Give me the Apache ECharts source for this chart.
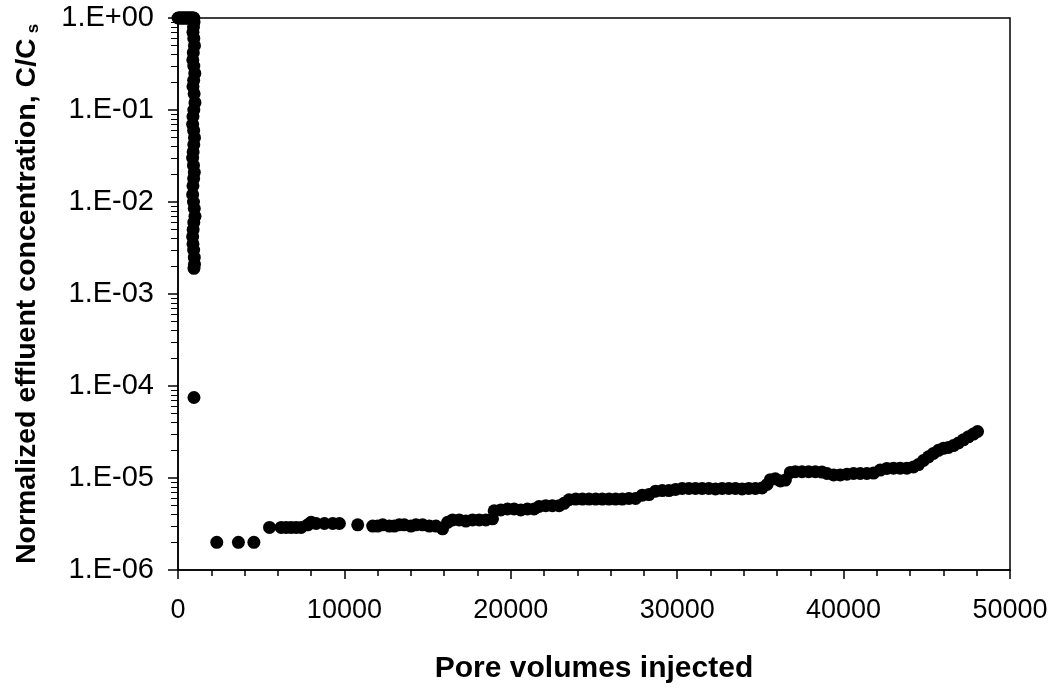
<!DOCTYPE html>
<html>
<head>
<meta charset="utf-8">
<script src="https://cdn.jsdelivr.net/npm/echarts@6/dist/echarts.min.js"></script>
<style>
  html, body { margin: 0; padding: 0; background: #fff; }
  #chart { width: 1060px; height: 690px; }
</style>
</head>
<body>
<div id="chart"></div>
<script>
// early breakthrough: pore volumes and C/Cs
var earlyX = [0, 60, 120, 180, 240, 300, 360, 420, 480, 540, 600, 660, 720, 780, 840, 900, 950,
  960, 930, 900, 950, 990, 920, 890, 950, 1010, 940, 900, 970, 1020, 950, 900, 880, 940, 990, 950,
  910, 880, 930, 980, 940, 900, 880, 930, 980, 1020, 950, 910, 880, 900, 940, 980, 990, 960, 960];
var earlyC = [1, 1, 1, 1, 1, 1, 1, 1, 1, 1, 1, 1, 1, 1, 1, 1, 1,
  0.9, 0.8, 0.7, 0.6, 0.5, 0.42, 0.35, 0.3, 0.25, 0.21, 0.18, 0.15, 0.12, 0.1, 0.085, 0.07, 0.06, 0.05, 0.042,
  0.035, 0.03, 0.025, 0.021, 0.018, 0.015, 0.012, 0.01, 0.0085, 0.007, 0.006, 0.005, 0.0042, 0.0035, 0.003,
  0.0025, 0.0021, 0.0019, 0.000075];

// long tail
var tailX = [2330, 3630, 4560, 5500, 6200, 6500, 6800, 7100, 7400, 7800, 8000, 8300, 8800, 9300, 9700,
  10800, 11700, 12000, 12300, 12700, 13000, 13300, 13600, 14000, 14300, 14700, 15100, 15500, 15900,
  16200, 16500, 16900, 17300, 17700, 18100, 18500, 18900, 19000, 19400, 19800, 20200, 20600, 21000,
  21400, 21700, 22100, 22500, 22900, 23200, 23500, 23900, 24300, 24700, 25100, 25500, 25900, 26300,
  26700, 27100, 27500, 27900, 28300, 28700, 29100, 29500, 29900, 30300, 30700, 31100, 31500, 31900,
  32300, 32700, 33100, 33500, 33900, 34300, 34700, 35100, 35400, 35600, 35900, 36200, 36500, 36800,
  37100, 37500, 37900, 38300, 38700, 39000, 39400, 39800, 40200, 40600, 41000, 41400, 41800, 42200,
  42600, 43000, 43400, 43800, 44200, 44500, 44800, 45100, 45400, 45700, 46000, 46300, 46600, 46900,
  47200, 47500, 47800, 48050];
var tailC = [2.0e-6, 2.0e-6, 2.0e-6, 2.9e-6, 2.9e-6, 2.9e-6, 2.9e-6, 2.9e-6, 2.9e-6, 3.1e-6, 3.3e-6, 3.2e-6, 3.2e-6, 3.2e-6, 3.2e-6,
  3.1e-6, 3.0e-6, 3.0e-6, 3.1e-6, 3.0e-6, 3.0e-6, 3.1e-6, 3.1e-6, 3.0e-6, 3.1e-6, 3.1e-6, 3.0e-6, 3.0e-6, 2.8e-6,
  3.3e-6, 3.5e-6, 3.5e-6, 3.4e-6, 3.5e-6, 3.5e-6, 3.5e-6, 3.6e-6, 4.4e-6, 4.5e-6, 4.6e-6, 4.6e-6, 4.5e-6, 4.6e-6,
  4.6e-6, 4.9e-6, 5.0e-6, 5.0e-6, 5.0e-6, 5.3e-6, 5.8e-6, 5.9e-6, 5.9e-6, 5.9e-6, 5.9e-6, 5.9e-6, 5.9e-6, 5.9e-6,
  5.9e-6, 6.0e-6, 6.0e-6, 6.5e-6, 6.6e-6, 7.2e-6, 7.3e-6, 7.3e-6, 7.5e-6, 7.7e-6, 7.7e-6, 7.7e-6, 7.7e-6, 7.7e-6,
  7.6e-6, 7.7e-6, 7.7e-6, 7.7e-6, 7.6e-6, 7.7e-6, 7.7e-6, 7.8e-6, 8.5e-6, 9.6e-6, 9.8e-6, 9.3e-6, 9.5e-6, 1.15e-5,
  1.17e-5, 1.17e-5, 1.17e-5, 1.17e-5, 1.16e-5, 1.12e-5, 1.08e-5, 1.08e-5, 1.10e-5, 1.12e-5, 1.12e-5, 1.12e-5, 1.13e-5, 1.22e-5,
  1.27e-5, 1.28e-5, 1.28e-5, 1.28e-5, 1.32e-5, 1.4e-5, 1.55e-5, 1.7e-5, 1.85e-5, 2.0e-5, 2.1e-5, 2.15e-5, 2.25e-5, 2.4e-5,
  2.6e-5, 2.8e-5, 3.0e-5, 3.2e-5];

var yMajorTicks = [1e-6, 1e-5, 1e-4, 1e-3, 1e-2, 1e-1, 1];
var yMinorTicks = [];
for (var e = -6; e < 0; e++) {
  for (var m = 2; m <= 9; m++) {
    yMinorTicks.push(m * Math.pow(10, e));
  }
}

var font = 'Arial, "Liberation Sans", sans-serif';

var points = [];
for (var i = 0; i < earlyX.length; i++) points.push([earlyX[i], earlyC[i]]);
for (var j = 0; j < tailX.length; j++) points.push([tailX[j], tailC[j]]);

function sciLabel(v) {
  var p = Math.round(Math.log(v) / Math.LN10);
  var a = Math.abs(p);
  return '1.E' + (p < 0 ? '-' : '+') + (a < 10 ? '0' : '') + a;
}

var chart = echarts.init(document.getElementById('chart'));
var option = {
  animation: false,
  backgroundColor: '#fff',
  grid: {
    left: 178, right: 50, top: 18, bottom: 120,
    show: true, borderColor: '#000', borderWidth: 1.5, backgroundColor: 'transparent'
  },
  xAxis: {
    type: 'value',
    min: 0, max: 50000, interval: 10000,
    name: 'Pore volumes injected',
    nameLocation: 'middle',
    nameGap: 84,
    nameTextStyle: { fontFamily: font, fontSize: 30, fontWeight: 'bold', color: '#000' },
    axisLine: { lineStyle: { color: '#000', width: 1.5 } },
    axisTick: { inside: false, length: 9, lineStyle: { color: '#000', width: 1.5 } },
    minorTick: { show: true, splitNumber: 5, length: 6, lineStyle: { color: '#000', width: 1.5 } },
    axisLabel: { fontFamily: font, fontSize: 27, color: '#000', margin: 27, formatter: function (v) { return String(v); } },
    splitLine: { show: false }
  },
  yAxis: [{
    type: 'log',
    logBase: 10,
    min: 1e-6, max: 1,
    name: 'Normalized effluent concentration, C/C{sub|s}',
    nameLocation: 'middle',
    nameRotate: 90,
    nameGap: 136,
    nameTextStyle: {
      fontFamily: font, fontSize: 28.5, fontWeight: 'bold', color: '#000',
      rich: { sub: { fontFamily: font, fontSize: 17, fontWeight: 'bold', color: '#000', padding: [12, 0, 0, 5] } }
    },
    axisLine: { lineStyle: { color: '#000', width: 1.5 } },
    axisTick: { inside: false, length: 10, customValues: yMajorTicks, lineStyle: { color: '#000', width: 1.5 } },
    axisLabel: { fontFamily: font, fontSize: 29, color: '#000', margin: 24, customValues: yMajorTicks, formatter: sciLabel },
    splitLine: { show: false }
  }, {
    type: 'log',
    logBase: 10,
    min: 1e-6, max: 1,
    position: 'left',
    axisLine: { show: false },
    axisTick: { inside: false, length: 7, customValues: yMinorTicks, lineStyle: { color: '#000', width: 1 } },
    axisLabel: { show: false },
    splitLine: { show: false }
  }],
  series: [{
    type: 'scatter',
    yAxisIndex: 0,
    symbol: 'circle',
    symbolSize: 13,
    clip: false,
    itemStyle: { color: '#000', opacity: 1 },
    data: points
  }]
};
chart.setOption(option);
</script>
</body>
</html>
